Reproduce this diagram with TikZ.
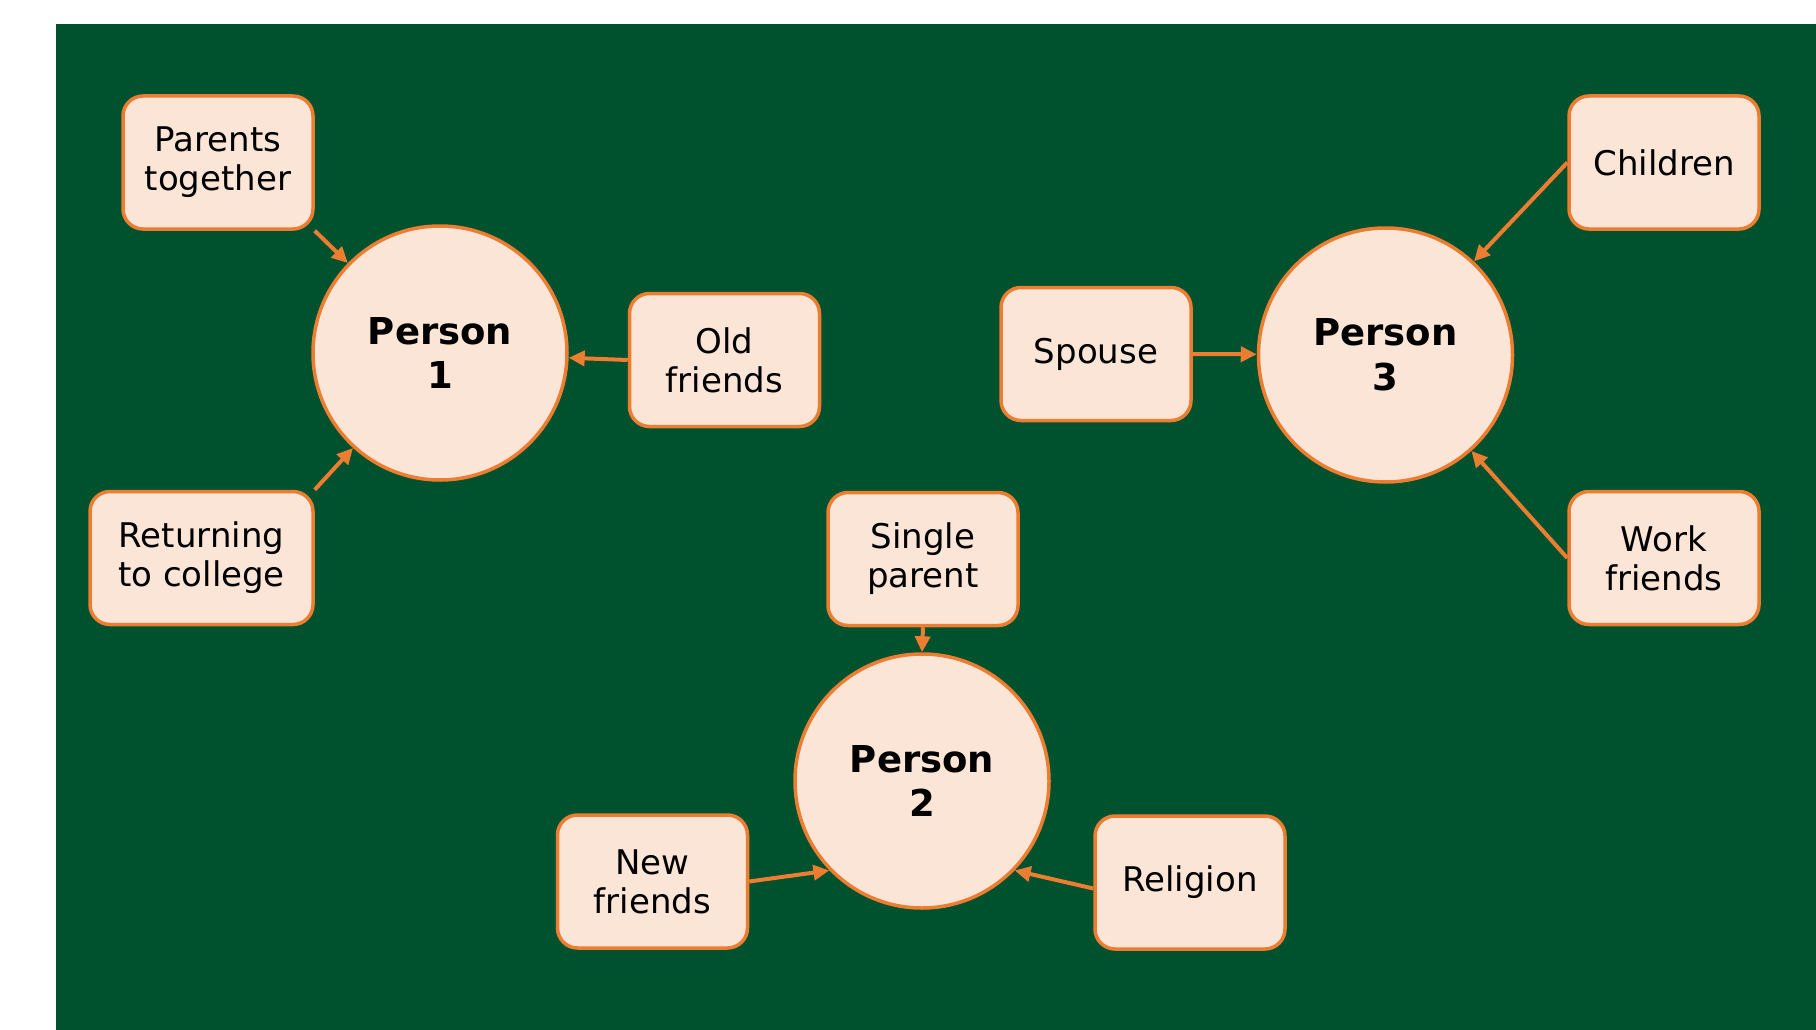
\documentclass[tikz,border=0pt]{standalone}
\usepackage{fontspec}
\setmainfont{DejaVu Sans}
\usetikzlibrary{arrows.meta}
\definecolor{bggreen}{RGB}{0,81,46}
\definecolor{edgeorange}{RGB}{237,125,49}
\definecolor{peach}{RGB}{251,229,214}
\tikzset{
  boxnode/.style={draw=edgeorange, fill=peach, line width=3.5pt, rounded corners=20pt,
    minimum width=190pt, minimum height=133pt, inner sep=0pt, align=center,
    font=\fontsize{34}{39}\selectfont, text=black},
  personnode/.style={draw=edgeorange, fill=peach, line width=3.5pt, circle,
    minimum size=254pt, inner sep=0pt, align=center,
    font=\fontsize{37}{44.5}\selectfont\bfseries, text=black},
  link/.style={draw=edgeorange, line width=4pt, -{Triangle[length=16pt,width=15pt]}}
}
\begin{document}
\begin{tikzpicture}[x=1pt,y=-1pt]
\useasboundingbox (0,0) rectangle (1816,1030);
\fill[white] (0,0) rectangle (1816,1030);
\fill[bggreen] (56,24) rectangle (1816,1030);

\node[personnode] (p1) at (440,353) {Person\\1};
\node[personnode] (p3) at (1385.5,355) {Person\\3};
\node[personnode] (p2) at (922,781) {Person\\2};

\node[boxnode] (pt) at (218,162.5) {Parents\\together};
\node[boxnode] (of) at (724.5,360) {Old\\friends};
\node[boxnode, minimum width=223pt] (rc) at (201.5,558) {Returning\\to college};
\node[boxnode] (sp) at (1096,354) {Spouse};
\node[boxnode] (ch) at (1664,162.5) {Children};
\node[boxnode] (wf) at (1664,558) {Work\\friends};
\node[boxnode] (spar) at (923,559) {Single\\parent};
\node[boxnode] (nf) at (652.5,881.5) {New\\friends};
\node[boxnode] (rel) at (1190,882.5) {Religion};

\draw[link] (pt.south east) -- (p1);
\draw[link] (rc.north east) -- (p1);
\draw[link] (of.west) -- (p1);
\draw[link] (sp.east) -- (p3);
\draw[link] (ch.west) -- (p3);
\draw[link] (wf.west) -- (p3);
\draw[link] (spar.south) -- (p2.north);
\draw[link] (nf.east) -- (p2.224);
\draw[link] ([yshift=-6pt]rel.west) -- (p2.316);
\end{tikzpicture}
\end{document}
